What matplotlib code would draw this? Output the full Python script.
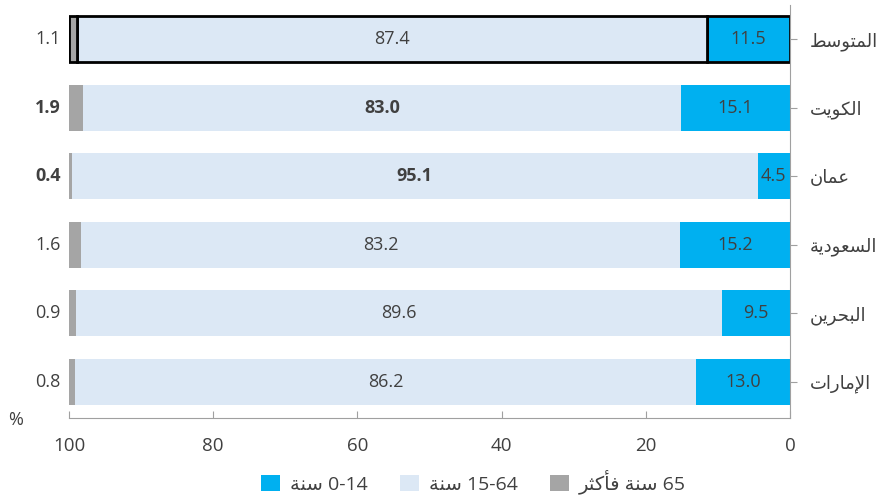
import matplotlib.pyplot as plt
from matplotlib.patches import Patch
import numpy as np

# Arabic names written in visual order with presentation forms (matplotlib has no shaping)
countries = [
    "\uFEC2\uFEB3\uFEEE\uFE98\uFEE4\uFEDF\uFE8D",          # المتوسط
    "\uFE96\uFEF3\uFEEE\uFEDC\uFEDF\uFE8D",                # الكويت
    "\uFEE5\uFE8E\uFEE4\uFECB",                            # عمان
    "\uFE94\uFEF3\uFEA9\uFEEE\uFECC\uFEB4\uFEDF\uFE8D",    # السعودية
    "\uFEE6\uFEF3\uFEAE\uFEA4\uFE92\uFEDF\uFE8D",          # البحرين
    "\uFE95\uFE8D\uFEAD\uFE8E\uFEE3\uFEF9\uFE8D",          # الإمارات
]
age_0_14 = [11.5, 15.1, 4.5, 15.2, 9.5, 13.0]
age_15_64 = [87.4, 83.0, 95.1, 83.2, 89.6, 86.2]
age_65 = [1.1, 1.9, 0.4, 1.6, 0.9, 0.8]
bold_rows = [1, 2]

sana = "\uFE94\uFEE8\uFEB3"  # سنة
legend_labels = [
    sana + " 0-14",
    sana + " 15-64",
    "\uFEAE\uFE9C\uFEDB\uFE84\uFED3 " + sana + " 65",  # 65 سنة فأكثر
]

c_young = "#00B0F0"
c_work = "#DCE8F5"
c_old = "#A5A5A5"
txt = "#404040"

plt.rcParams['font.family'] = ['Open Sans', 'DejaVu Sans']

fig = plt.figure(figsize=(8.85, 4.97), dpi=100)
ax = fig.add_axes([0.078, 0.159, 0.8147, 0.831])

y = np.arange(len(countries))
h = 0.67
a = np.array(age_0_14)
b = np.array(age_15_64)
c = np.array(age_65)

bars1 = ax.barh(y, a, left=0, height=h, color=c_young)
bars2 = ax.barh(y, b, left=a, height=h, color=c_work)
bars3 = ax.barh(y, c, left=a + b, height=h, color=c_old)

# average row outlined in black
for bars in (bars1, bars2, bars3):
    bars[0].set_edgecolor("black")
    bars[0].set_linewidth(2)

for i in range(len(countries)):
    fw = "bold" if i in bold_rows else "normal"
    ax.text(a[i] / 2, y[i], f"{a[i]:.1f}", ha="center", va="center",
            color=txt, fontsize=13)
    ax.text(a[i] + b[i] / 2, y[i], f"{b[i]:.1f}", ha="center", va="center",
            color=txt, fontsize=13, fontweight=fw)
    ax.annotate(f"{c[i]:.1f}", xy=(100, y[i]), xytext=(-6, 0),
                textcoords="offset points", ha="right", va="center",
                color=txt, fontsize=13, fontweight=fw)

ax.set_xlim(100, 0)
ax.set_ylim(5.53, -0.5)
ax.set_xticks([100, 80, 60, 40, 20, 0])
ax.set_yticks(y)
ax.set_yticklabels(countries)

ax.yaxis.tick_right()
ax.spines["left"].set_visible(False)
ax.spines["top"].set_visible(False)
ax.spines["right"].set_color("#A0A0A0")
ax.spines["bottom"].set_color("#A0A0A0")
ax.tick_params(axis="x", direction="in", length=5, colors="#A0A0A0",
               labelcolor=txt, labelsize=13.5, pad=14)
ax.tick_params(axis="y", direction="out", length=5, colors="#A0A0A0",
               labelcolor=txt, labelsize=13, pad=9)

fig.text(0.009, 0.155, "%", ha="left", va="center", color=txt, fontsize=13)

handles = [Patch(facecolor=col) for col in (c_young, c_work, c_old)]
fig.legend(handles, legend_labels, loc="center", bbox_to_anchor=(0.535, 0.03),
           ncol=3, frameon=False, fontsize=14, handlelength=0.95, handleheight=0.95,
           handletextpad=0.5, columnspacing=1.7, labelcolor=txt)

fig.savefig("out.png", dpi=100)
